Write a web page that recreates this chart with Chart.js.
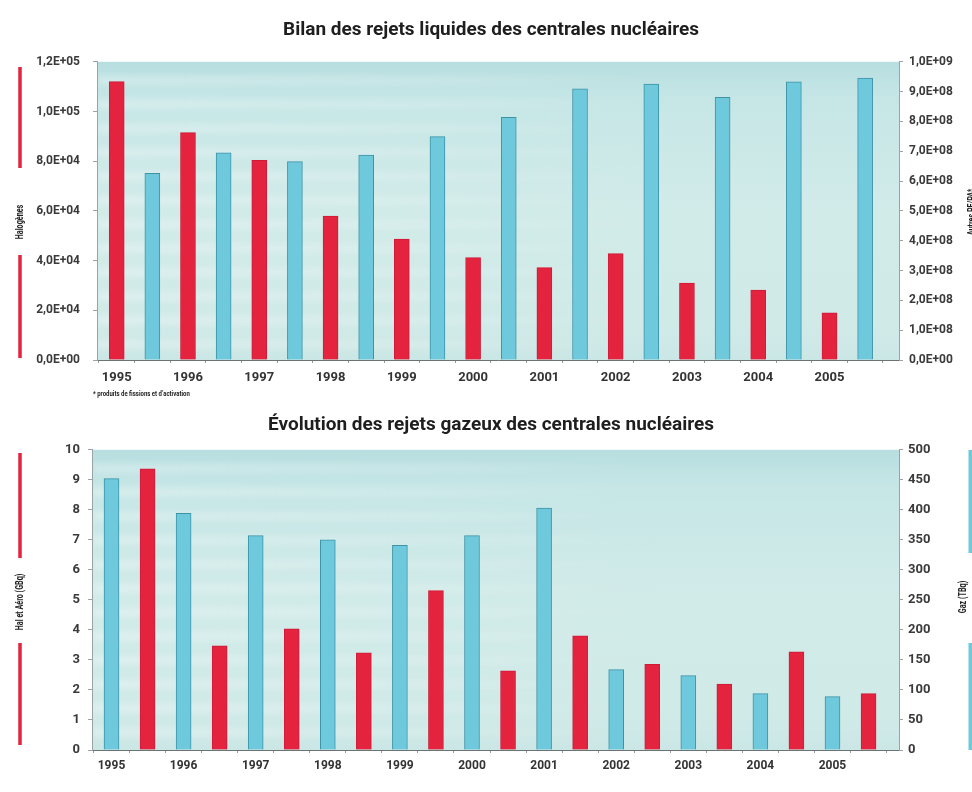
<!DOCTYPE html>
<html lang="fr">
<head>
<meta charset="utf-8">
<title>Rejets des centrales nucléaires</title>
<script src="https://cdn.jsdelivr.net/npm/chart.js@4.4.1/dist/chart.umd.min.js"></script>
<style>
  html, body { margin: 0; padding: 0; background: #ffffff; overflow: hidden; width: 972px; height: 792px; }
  canvas { position: absolute; left: 0; display: block; }
  #liquides { top: 0; }
  #gazeux { top: 398px; }
</style>
</head>
<body>
<canvas id="liquides" width="982" height="398"></canvas>
<canvas id="gazeux" width="982" height="394"></canvas>
<script>
// ---- data -------------------------------------------------------------
const years = ['1995', '1996', '1997', '1998', '1999', '2000', '2001', '2002', '2003', '2004', '2005'];

// Rejets liquides
const halogenes  = [112000, 91500, 80300, 57900, 48700, 41200, 37200, 42800, 31000, 28100, 19000];
const autresPfPa = [6.26e8, 6.95e8, 6.65e8, 6.87e8, 7.49e8, 8.14e8, 9.09e8, 9.25e8, 8.81e8, 9.33e8, 9.45e8];
const halogenesAxis  = { min: 0, max: 1.2e5, step: 2e4 };
const autresPfPaAxis = { min: 0, max: 1.0e9, step: 1e8 };

// Rejets gazeux
const gazTBq     = [452, 394, 357, 350, 341, 357, 403, 134, 124, 94, 89];
const halAeroGBq = [9.37, 3.47, 4.04, 3.24, 5.31, 2.64, 3.80, 2.85, 2.20, 3.27, 1.88];
const halAeroAxis = { min: 0, max: 10, step: 1 };
const gazAxis     = { min: 0, max: 500, step: 50 };

// ---- helpers ----------------------------------------------------------
const RED = '#e4233f', RED_EDGE = '#cf1b38';
const BLUE = '#6fc9dc', BLUE_EDGE = '#3d93a6';

// each year owns two consecutive slots on the x axis
function slotData(values, offset) {
  return values.map((v, i) => ({ x: 2 * i + offset, y: v }));
}

// 1.2e5 -> "1,2E+05"
function sci(v) {
  const parts = Number(v).toExponential(1).split('e');
  const n = parseInt(parts[1], 10);
  return parts[0].replace('.', ',') + 'E' + (n < 0 ? '-' : '+') + String(Math.abs(n)).padStart(2, '0');
}
function plain(v) { return String(v); }

function yearLabel(v) {
  return (Number.isInteger(v) && v % 2 === 0) ? years[v / 2] : '';
}

// tick marks between bars, labels on the first slot of each year
function halfSlotTicks(scale) {
  const t = [];
  for (let k = -1; k <= 43; k++) t.push({ value: k / 2 });
  scale.ticks = t;
}

function xScale(min, max, font, pad, h) {
  return {
    type: 'linear', min: min, max: max, bounds: 'data', offset: false,
    afterBuildTicks: halfSlotTicks,
    afterFit: s => { s.height = h; },
    grid: {
      offset: false, drawOnChartArea: false, drawTicks: true, tickLength: 3,
      tickColor: c => (c.tick && c.tick.value % 1 !== 0) ? '#8d9b9b' : 'rgba(0,0,0,0)'
    },
    border: { display: true, color: '#6d7373', width: 1 },
    ticks: { autoSkip: false, maxRotation: 0, minRotation: 0, padding: pad, font: font, color: '#333333', callback: yearLabel }
  };
}

function yScale(pos, axis, fmt, font, pad, w) {
  return {
    type: 'linear', position: pos, min: axis.min, max: axis.max,
    afterFit: s => { s.width = w; },
    grid: { drawOnChartArea: false, tickLength: 4, tickColor: '#9aa4a4' },
    border: { display: true, color: '#9aa4a4' },
    ticks: { stepSize: axis.step, padding: pad, font: font, color: '#3a3a3a', callback: fmt }
  };
}

const barStyle = { barThickness: 15, grouped: false, borderWidth: 1, borderSkipped: 'start' };

// light teal backdrop behind the bars, with soft pale bands on the left
const plotBackdrop = {
  id: 'plotBackdrop',
  beforeDraw(chart) {
    const ctx = chart.ctx, a = chart.chartArea;
    const w = a.right - a.left, h = a.bottom - a.top;
    const g = ctx.createLinearGradient(0, a.top, 0, a.bottom);
    g.addColorStop(0, '#b7dee0');
    g.addColorStop(0.12, '#c6e6e6');
    g.addColorStop(0.5, '#d1ebe9');
    g.addColorStop(0.88, '#d0eae8');
    g.addColorStop(1, '#cbe7e5');
    ctx.save();
    ctx.fillStyle = g;
    ctx.fillRect(a.left, a.top, w, h);
    ctx.beginPath();
    ctx.rect(a.left, a.top, w, h);
    ctx.clip();
    ctx.filter = 'blur(3px)';
    const band = ctx.createLinearGradient(a.left, 0, a.left + w * 0.7, 0);
    band.addColorStop(0, 'rgba(255,255,255,0.30)');
    band.addColorStop(0.6, 'rgba(255,255,255,0.16)');
    band.addColorStop(1, 'rgba(255,255,255,0)');
    ctx.fillStyle = band;
    for (let y = a.top + 14; y < a.bottom - 6; y += 24) {
      ctx.fillRect(a.left, y, w * 0.7, 9);
    }
    ctx.restore();
  }
};

// side captions with their coloured key strokes, and notes
function sideMarks(strokes, captions) {
  return {
    id: 'sideMarks',
    afterDraw(chart) {
      const ctx = chart.ctx;
      ctx.save();
      strokes.forEach(s => {
        ctx.fillStyle = s.color;
        ctx.fillRect(s.x - s.w / 2, s.y1, s.w, s.y2 - s.y1);
      });
      captions.forEach(c => {
        ctx.save();
        ctx.translate(c.x, c.y);
        if (c.vertical) ctx.rotate(-Math.PI / 2);
        ctx.scale(c.squeeze || 1, 1);
        ctx.font = c.font;
        ctx.fillStyle = c.color || '#222222';
        ctx.textAlign = c.align || 'center';
        ctx.textBaseline = 'middle';
        ctx.fillText(c.text, 0, 0);
        ctx.restore();
      });
      ctx.restore();
    }
  };
}

const tickFont = { family: 'Roboto', size: 12, weight: 'bold' };
const capFont = 'bold 10px Roboto';
const titleFont = { family: 'Roboto', size: 19, weight: 'bold' };

// ---- rejets liquides ---------------------------------------------------
new Chart(document.getElementById('liquides'), {
  type: 'bar',
  data: {
    datasets: [
      Object.assign({ label: 'Halogènes', data: slotData(halogenes, 0), yAxisID: 'yL',
        backgroundColor: RED, borderColor: RED_EDGE }, barStyle),
      Object.assign({ label: 'Autres PF/PA*', data: slotData(autresPfPa, 1), yAxisID: 'yR',
        backgroundColor: BLUE, borderColor: BLUE_EDGE }, barStyle)
    ]
  },
  options: {
    responsive: false,
    animation: false,
    layout: { padding: 0 },
    plugins: {
      legend: { display: false },
      tooltip: { enabled: false },
      title: {
        display: true,
        text: 'Bilan des rejets liquides des centrales nucléaires',
        font: titleFont,
        color: '#1e1e1e',
        padding: { top: 19, bottom: 20 }
      }
    },
    scales: {
      x: xScale(-0.553, 21.95, { family: 'Roboto', size: 13, weight: 'bold' }, 7, 38),
      yL: yScale('left', halogenesAxis, sci, tickFont, 13, 97),
      yR: yScale('right', autresPfPaAxis, sci, tickFont, 6, 83)
    }
  },
  plugins: [plotBackdrop, sideMarks(
    [
      { x: 20, y1: 67, y2: 168, w: 3.5, color: RED },
      { x: 20, y1: 255, y2: 358, w: 3.5, color: RED },
      { x: 980, y1: 67, y2: 168, w: 3.5, color: BLUE },
      { x: 980, y1: 255, y2: 358, w: 3.5, color: BLUE }
    ],
    [
      { text: 'Halogènes', x: 20, y: 222, vertical: true, squeeze: 0.72, font: capFont },
      { text: 'Autres PF/PA*', x: 972, y: 212, vertical: true, squeeze: 0.72, font: capFont },
      { text: '* produits de fissions et d\u2019activation', x: 93, y: 394, align: 'left', squeeze: 0.8, font: 'bold 7.5px Roboto' }
    ]
  )]
});

// ---- rejets gazeux -----------------------------------------------------
new Chart(document.getElementById('gazeux'), {
  type: 'bar',
  data: {
    datasets: [
      Object.assign({ label: 'Gaz (TBq)', data: slotData(gazTBq, 0), yAxisID: 'yR',
        backgroundColor: BLUE, borderColor: BLUE_EDGE }, barStyle),
      Object.assign({ label: 'Hal et Aéro (GBq)', data: slotData(halAeroGBq, 1), yAxisID: 'yL',
        backgroundColor: RED, borderColor: RED_EDGE }, barStyle)
    ]
  },
  options: {
    responsive: false,
    animation: false,
    layout: { padding: 0 },
    plugins: {
      legend: { display: false },
      tooltip: { enabled: false },
      title: {
        display: true,
        text: 'Évolution des rejets gazeux des centrales nucléaires',
        font: titleFont,
        color: '#1e1e1e',
        padding: { top: 16, bottom: 13 }
      }
    },
    scales: {
      x: xScale(-0.541, 21.845, { family: 'Roboto', size: 12, weight: 'bold' }, 6, 42),
      yL: yScale('left', halAeroAxis, plain, { family: 'Roboto', size: 13, weight: 'bold' }, 8, 92),
      yR: yScale('right', gazAxis, plain, { family: 'Roboto', size: 13, weight: 'bold' }, 5, 83)
    }
  },
  plugins: [plotBackdrop, sideMarks(
    [
      { x: 20, y1: 55, y2: 160, w: 3.5, color: RED },
      { x: 20, y1: 245, y2: 347, w: 3.5, color: RED },
      { x: 970.5, y1: 52, y2: 155, w: 4, color: BLUE },
      { x: 970.5, y1: 245, y2: 352, w: 4, color: BLUE }
    ],
    [
      { text: 'Hal et Aéro (GBq)', x: 20, y: 204, vertical: true, squeeze: 0.72, font: capFont },
      { text: 'Gaz (TBq)', x: 963, y: 199, vertical: true, squeeze: 0.72, font: capFont }
    ]
  )]
});
</script>
</body>
</html>
